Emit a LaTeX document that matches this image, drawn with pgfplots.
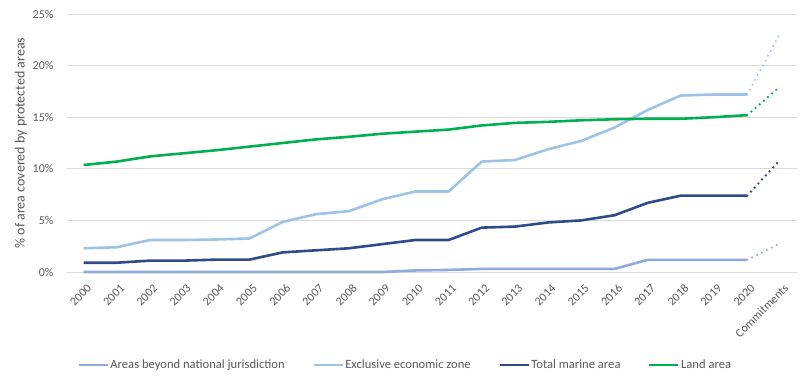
\documentclass[border=0pt]{standalone}
\usepackage{pgfplots}
\pgfplotsset{compat=1.18}
\usepackage{fontspec}
\setmainfont{Carlito}
\definecolor{abnj}{HTML}{8FAADC}
\definecolor{eez}{HTML}{9DC3E6}
\definecolor{tma}{HTML}{2F4B8C}
\definecolor{land}{HTML}{00B050}
\definecolor{txt}{HTML}{595959}
\definecolor{gridc}{HTML}{D9D9D9}
\begin{document}
\begin{tikzpicture}
\useasboundingbox (0,0) rectangle (807bp,383bp);
\begin{axis}[
  at={(67bp,111bp)}, anchor=south west,
  scale only axis, width=730bp, height=258bp,
  xmin=-0.5, xmax=21.5, ymin=0, ymax=25,
  ytick={0,5,10,15,20,25},
  yticklabel={\pgfmathprintnumber{\tick}\%},
  /pgf/number format/assume math mode=true,
  xtick={0,...,21},
  xticklabels={2000,2001,2002,2003,2004,2005,2006,2007,2008,2009,2010,2011,2012,2013,2014,2015,2016,2017,2018,2019,2020,Commitments},
  xticklabel style={rotate=45, anchor=north east, font=\fontsize{12bp}{14bp}\selectfont, text=txt, inner sep=1bp, yshift=-9bp, xshift=-5bp},
  yticklabel style={font=\fontsize{12bp}{14bp}\selectfont, text=txt, anchor=east, xshift=-10bp},
  ymajorgrids, grid style={gridc, line width=0.8bp},
  axis line style={draw=none}, tick style={draw=none},
  ylabel={\% of area covered by protected areas},
  every axis y label/.style={at={(axis description cs:-0.063,0.5)}, rotate=90, anchor=center, font=\fontsize{14bp}{16bp}\selectfont, text=txt},
  legend columns=4,
  legend style={draw=none, at={(axis description cs:0.463,-0.36)}, anchor=center, font=\fontsize{12.6bp}{14bp}\selectfont, text=txt,
    nodes={inner sep=1.5bp},
    /tikz/every even column/.append style={column sep=26bp}},
  legend image code/.code={\draw[#1, line width=2.6bp] (0bp,0bp) -- (29bp,0bp);},
  clip=false,
]
% Areas beyond national jurisdiction
\addplot[abnj, line width=2.6bp, line join=round] coordinates {
(0,0) (1,0) (2,0) (3,0) (4,0) (5,0) (6,0) (7,0) (8,0) (9,0) (10,0.15) (11,0.2) (12,0.3) (13,0.3) (14,0.3) (15,0.3) (16,0.3) (17,1.18) (18,1.18) (19,1.18) (20,1.18)};
\addlegendentry{Areas beyond national jurisdiction}
% EEZ
\addplot[eez, line width=2.6bp, line join=round] coordinates {
(0,2.3) (1,2.4) (2,3.1) (3,3.1) (4,3.15) (5,3.25) (6,4.85) (7,5.6) (8,5.9) (9,7.05) (10,7.8) (11,7.8) (12,10.7) (13,10.85) (14,11.9) (15,12.7) (16,14.0) (17,15.7) (18,17.1) (19,17.2) (20,17.2)};
\addlegendentry{Exclusive economic zone}
% Total marine
\addplot[tma, line width=2.6bp, line join=round] coordinates {
(0,0.9) (1,0.9) (2,1.1) (3,1.1) (4,1.2) (5,1.2) (6,1.9) (7,2.1) (8,2.3) (9,2.7) (10,3.1) (11,3.1) (12,4.3) (13,4.4) (14,4.8) (15,5.0) (16,5.5) (17,6.7) (18,7.4) (19,7.4) (20,7.4)};
\addlegendentry{Total marine area}
% Land
\addplot[land, line width=2.6bp, line join=round] coordinates {
(0,10.37) (1,10.7) (2,11.2) (3,11.5) (4,11.8) (5,12.15) (6,12.5) (7,12.85) (8,13.1) (9,13.4) (10,13.6) (11,13.8) (12,14.2) (13,14.45) (14,14.55) (15,14.7) (16,14.8) (17,14.85) (18,14.85) (19,15.0) (20,15.2)};
\addlegendentry{Land area}
% commitments (dotted)
\addplot[abnj, forget plot, line width=2.2bp, line cap=round, dash pattern=on 0pt off 5.5bp] coordinates {(20,1.18) (21,2.8)};
\addplot[eez, forget plot, line width=2.2bp, line cap=round, dash pattern=on 0pt off 5.5bp] coordinates {(20,17.2) (21,23.2)};
\addplot[tma, forget plot, line width=2.6bp, line cap=round, dash pattern=on 0pt off 5.5bp] coordinates {(20,7.4) (21,10.9)};
\addplot[land, forget plot, line width=2.6bp, line cap=round, dash pattern=on 0pt off 5.5bp] coordinates {(20,15.2) (21,18.0)};
\end{axis}
\end{tikzpicture}
\end{document}
